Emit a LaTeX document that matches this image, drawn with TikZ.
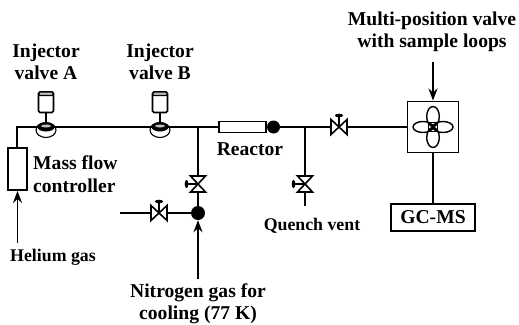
\documentclass[tikz,border=0pt]{standalone}
\usepackage{fontspec}
\setmainfont{Liberation Serif}
\usetikzlibrary{arrows.meta}
\tikzset{
	pipe/.style={line width=1.9pt},
	flow/.style={pipe,-{Stealth[length=12pt,width=9pt]}},
	label/.style={font=\bfseries\fontsize{19.6}{22.5}\selectfont,align=center,inner sep=0pt},
	small label/.style={label,font=\bfseries\fontsize{17.8}{20}\selectfont},
	box/.style={draw,line width=1.9pt,fill=white,inner sep=0pt},
	blob/.style={circle,fill=black,inner sep=0pt,minimum size=14pt},
	pics/valve/.style={code={
		\draw[line width=1.6pt,fill=white,line join=miter] (-8,-7.5) -- (8,7.5) -- (8,-7.5) -- (-8,7.5) -- cycle;
		\draw[line width=1.6pt] (0,0) -- (0,-11);
		\fill (0,-11.5) ellipse (4 and 1.8);
	}},
	pics/injector/.style={code={
		\draw[line width=1.1pt] (0,3) ellipse (10 and 7.5);
		\fill[black] (0,0) ellipse (8.5 and 4.5);
		\fill[black!25] (0,-1) ellipse (5 and 1.5);
		\draw[pipe] (0,-3) -- (0,-15);
		\draw[line width=1.6pt,fill=white,rounded corners=1.5pt] (-7.5,-14.5) -- (-7.5,-32) -- (-7.5,-35) -- (7.5,-35) -- (7.5,-14.5) -- cycle;
		\draw[line width=1.4pt,fill=black!25,rounded corners=1pt] (-7,-35) rectangle (7,-31.5);
	}}
}
\begin{document}
\begin{tikzpicture}[x=1pt,y=-1pt]
\useasboundingbox (0,0) rectangle (519,324);

% pipe junctions and free ends
\coordinate (corner) at (17,127);
\coordinate (teeB) at (198,127);
\coordinate (teeQ) at (305,127);
\coordinate (inA) at (46,127);
\coordinate (inB) at (160,127);
\coordinate (heIn) at (17.5,243);
\coordinate (nIn) at (198,279);
\coordinate (sideIn) at (120,213);
\coordinate (ventEnd) at (305,206);
\coordinate (sampleIn) at (433,62);
\coordinate (vCool) at (198,184);
\coordinate (vSide) at (159,213);
\coordinate (vOut) at (339,127);
\coordinate (vQuench) at (305,184);

\node [box,minimum width=19pt,minimum height=42pt] (mfc) at (17.5,169) {};
\node [box,minimum width=47pt,minimum height=11pt,anchor=west] (reactor) at (218,127) {};
\node [circle,fill=black,inner sep=0pt,minimum size=13pt] (outlet) at (273.5,127) {};
\node [box,minimum width=51pt,minimum height=51pt] (loops) at (433,127) {};
\node [box,minimum width=84pt,minimum height=27pt,font=\bfseries\fontsize{19.6}{22}\selectfont] (gcms) at (433,217.5) {GC-MS};
\node [blob] (mix) at (198,213) {};

\draw[pipe] (mfc.north -| corner) -- (corner) -- (reactor.west);
\draw[pipe] (reactor.east) -- (outlet);
\draw[pipe] (outlet) -- (loops.west);
\draw[pipe] (teeB) -- (mix);
\draw[pipe] (sideIn) -- (mix);
\draw[pipe] (teeQ) -- (ventEnd);
\draw[pipe] (loops.south) -- (gcms.north);
\draw[flow] (nIn) -- (mix);
\draw[flow] (heIn) -- (heIn |- mfc.south);
\draw[flow] (sampleIn) -- (loops.north);

\pic at (inA) {injector};
\pic at (inB) {injector};
\pic at (vOut) {valve};
\pic at (vSide) {valve};
\pic[rotate=90] at (vCool) {valve};
\pic[rotate=90] at (vQuench) {valve};

% sample loops
\draw[line width=1.4pt] (433,116.5) ellipse (6.3 and 10);
\draw[line width=1.4pt] (433,137.5) ellipse (6.3 and 10);
\draw[line width=1.4pt] (423,127) ellipse (10 and 5.5);
\draw[line width=1.4pt] (443,127) ellipse (10 and 5.5);
\draw[line width=1.1pt] (428.5,122.5) rectangle (437.5,131.5);
\draw[line width=1.1pt] (428.5,122.5) -- (437.5,131.5) (428.5,131.5) -- (437.5,122.5);

\node [label] (lA) at (46,62) {Injector\\valve A};
\node [label] (lB) at (160,62) {Injector\\valve B};
\node [label,align=left,anchor=west] (lMfc) at (33,174) {Mass flow\\controller};
\node [small label] (lHe) at (53,257) {Helium gas};
\node [label] (lReactor) at (250,149) {Reactor};
\node [small label] (lVent) at (312,226) {Quench vent};
\node [label] (lN) at (198,304) {Nitrogen gas for\\cooling (77 K)};
\node [label] (lLoops) at (432,32) {Multi-position valve\\with sample loops};
\end{tikzpicture}
\end{document}
